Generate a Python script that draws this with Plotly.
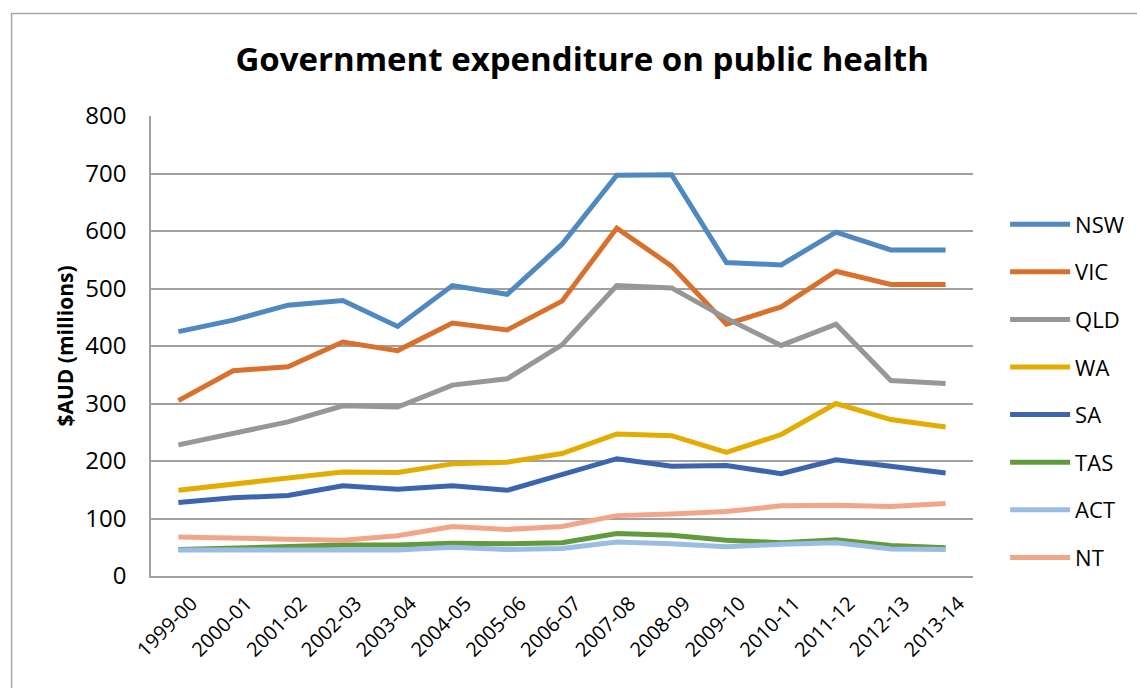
import plotly.graph_objects as go

years = ["1999-00", "2000-01", "2001-02", "2002-03", "2003-04", "2004-05", "2005-06",
         "2006-07", "2007-08", "2008-09", "2009-10", "2010-11", "2011-12", "2012-13", "2013-14"]

nsw = [425, 445, 471, 479, 434, 505, 490, 577, 697, 698, 545, 541, 598, 567, 567]
vic = [305, 357, 364, 407, 392, 440, 428, 478, 605, 539, 438, 468, 530, 507, 507]
qld = [228, 247, 268, 296, 294, 332, 343, 402, 505, 501, 448, 401, 438, 340, 335]
wa = [149, 160, 169, 181, 180, 195, 198, 213, 247, 244, 215, 246, 300, 272, 259]
sa = [128, 136, 140, 157, 151, 157, 149, 177, 204, 191, 192, 178, 202, 191, 179]
tas = [46, 49, 51, 54, 54, 57, 56, 58, 74, 71, 62, 58, 63, 53, 49]
act = [45, 45, 45, 47, 45, 50, 46, 48, 59, 56, 51, 55, 58, 47, 46]
nt = [68, 65, 64, 62, 70, 86, 81, 86, 105, 108, 112, 122, 123, 121, 126]

series = [
    ("NSW", nsw, "#4F89C0"),
    ("VIC", vic, "#D8712D"),
    ("QLD", qld, "#979797"),
    ("WA", wa, "#E3AC00"),
    ("SA", sa, "#3C65AE"),
    ("TAS", tas, "#619B3C"),
    ("ACT", act, "#9CBDE3"),
    ("NT", nt, "#F1A68A"),
]

FONT = "Open Sans"

fig = go.Figure()
for i, (name, vals, color) in enumerate(series):
    fig.add_trace(go.Scatter(
        x=years, y=vals, name=name, mode="lines",
        line=dict(color=color, width=5),
        legendgroup=name,
    ))

fig.update_layout(
    width=1137, height=688,
    margin=dict(l=151, r=164, t=116, b=112, autoexpand=False),
    paper_bgcolor="white", plot_bgcolor="white",
    font=dict(family=FONT, color="black"),
    title=dict(text="<b>Government expenditure on public health</b>",
               x=0.512, xanchor="center", y=0.913, yanchor="middle",
               font=dict(family=FONT, size=33, color="black")),
    showlegend=True,
    legend=dict(xref="container", x=0.884, xanchor="left",
                yref="paper", y=0.81, yanchor="top",
                font=dict(family=FONT, size=22, color="black"),
                tracegroupgap=16, itemwidth=60, bgcolor="rgba(0,0,0,0)"),
    xaxis=dict(type="category", range=[-0.5, 14.5], showgrid=False,
               showline=True, linecolor="#A0A0A0", linewidth=1.5,
               ticks="", tickangle=-45, ticklabelstandoff=6, ticklabelshift=13,
               tickfont=dict(size=20, family=FONT),
               zeroline=False),
    yaxis=dict(range=[0, 800], dtick=100, showgrid=True, gridcolor="#A0A0A0",
               gridwidth=1.5, showline=True, linecolor="#A0A0A0", linewidth=1.5,
               ticks="", ticklabelstandoff=18, tickfont=dict(size=24, family=FONT),
               zeroline=False,
               title=dict(text="<b>$AUD (millions)</b>", standoff=6,
                          font=dict(size=21, family=FONT))),
    shapes=[dict(type="rect", xref="paper", yref="paper",
                 x0=-0.1696, x1=1.25, y0=-0.3, y1=1.2229,
                 line=dict(color="#A6A6A6", width=1.5), fillcolor="rgba(0,0,0,0)",
                 layer="below")],
)

fig.write_html("out.html", config={"displayModeBar": False},
               post_script="document.body.style.margin='0';")
